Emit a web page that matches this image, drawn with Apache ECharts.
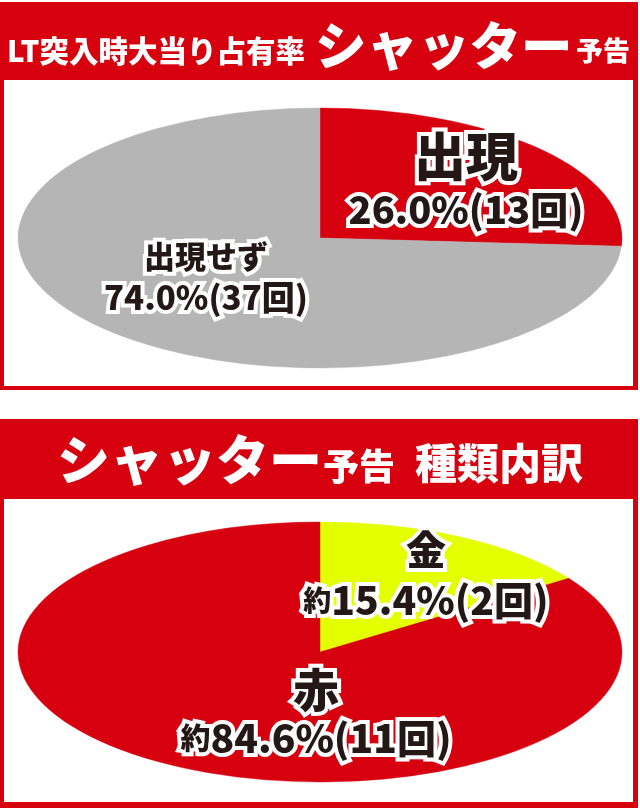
<!DOCTYPE html>
<html>
<head>
<meta charset="utf-8">
<script src="https://cdn.jsdelivr.net/npm/echarts@6/dist/echarts.min.js"></script>
<style>
  html, body { margin: 0; padding: 0; background: #fff; }
  #chart { width: 640px; height: 808px; }
</style>
</head>
<body>
<div id="chart"></div>
<script>
var RED = '#d6000f';
var GRAY = '#b5b5b6';
var YELLOW = '#e3ff00';
var INK = '#231815';
var FONT = '"Noto Sans CJK JP", "Noto Sans", sans-serif';

// 上段: LT突入時大当り占有率 シャッター予告
var shutterNames = ['出現', '出現せず'];
var shutterRates = [26.0, 74.0];
var shutterCounts = [13, 37];

// 下段: シャッター予告 種類内訳
var typeNames = ['金', '赤'];
var typeRates = [15.4, 84.6];
var typeCounts = [2, 11];

function ellipsePie(names, rates, counts, opt) {
    var total = rates.reduce(function (a, b) { return a + b; }, 0);
    var starts = [];
    var acc = 0;
    rates.forEach(function (r) { starts.push(acc); acc += r; });

    return {
        type: 'custom',
        coordinateSystem: 'none',
        silent: true,
        data: rates.map(function (r, i) {
            return { name: names[i], value: [r, counts[i]] };
        }),
        renderItem: function (params, api) {
            var i = params.dataIndex;
            var a0 = -Math.PI / 2 + 2 * Math.PI * starts[i] / total;
            var a1 = a0 + 2 * Math.PI * api.value(0) / total;
            var lb = opt.labels[i];
            var valueText = (opt.prefix ? '{p|' + opt.prefix + '}' : '') +
                '{v|' + api.value(0).toFixed(1) + '%(' + api.value(1) + '回)}';
            var txt = function (size, lh) {
                return { fontSize: size, lineHeight: lh, fontWeight: 900, fontFamily: FONT, fill: INK, stroke: '#fff', lineWidth: 8 };
            };
            return {
                type: 'group',
                children: [{
                    type: 'sector',
                    shape: { cx: opt.cx, cy: opt.cy, r: opt.rx, r0: 0, startAngle: a0, endAngle: a1, clockwise: true },
                    originX: opt.cx,
                    originY: opt.cy,
                    scaleY: opt.ry / opt.rx,
                    style: { fill: opt.colors[i], stroke: opt.colors[i], lineWidth: 0.6 }
                }, {
                    type: 'text',
                    x: lb.x,
                    y: lb.y,
                    z2: 10,
                    style: {
                        text: '{n|' + names[i] + '}\n' + valueText,
                        align: 'center',
                        verticalAlign: 'middle',
                        rich: {
                            n: txt(lb.ns, lb.nl),
                            p: txt(lb.ps || 28, lb.vl),
                            v: txt(lb.vs, lb.vl)
                        }
                    }
                }]
            };
        }
    };
}

function headText(x, y, text, size) {
    return {
        type: 'text',
        x: x,
        y: y,
        style: {
            text: text,
            fill: '#fff',
            fontSize: size,
            fontWeight: 900,
            fontFamily: FONT,
            align: 'left',
            verticalAlign: 'middle'
        }
    };
}

var myChart = echarts.init(document.getElementById('chart'));

myChart.setOption({
    animation: false,
    graphic: [
        // 上段の枠
        { type: 'rect', shape: { x: 0, y: 2, width: 638, height: 388 }, style: { fill: RED } },
        { type: 'rect', shape: { x: 4, y: 80, width: 629, height: 306 }, style: { fill: '#fff' } },
        headText(7, 51, 'LT突入時大当り占有率', 29.5),
        headText(315, 45, 'シャッター', 51.5),
        headText(576, 51, '予告', 27),
        // 下段の枠
        { type: 'rect', shape: { x: 0, y: 419, width: 638, height: 389 }, style: { fill: RED } },
        { type: 'rect', shape: { x: 4, y: 499, width: 629, height: 303 }, style: { fill: '#fff' } },
        headText(57, 460, 'シャッター', 53),
        headText(323, 466, '予告', 36),
        headText(415, 463, '種類内訳', 42)
    ],
    series: [
        ellipsePie(shutterNames, shutterRates, shutterCounts, {
            cx: 320, cy: 238, rx: 302, ry: 130,
            colors: [RED, GRAY],
            prefix: '',
            labels: [
                { x: 466, y: 181, ns: 52, nl: 58, vs: 38, vl: 50 },
                { x: 206, y: 277, ns: 31, nl: 40, vs: 33, vl: 42 }
            ]
        }),
        ellipsePie(typeNames, typeRates, typeCounts, {
            cx: 320, cy: 652, rx: 302, ry: 130,
            colors: [YELLOW, RED],
            prefix: '約',
            labels: [
                { x: 426, y: 576, ns: 40, nl: 48, vs: 39, vl: 52, ps: 28 },
                { x: 316, y: 714, ns: 46, nl: 48, vs: 39, vl: 48, ps: 30 }
            ]
        })
    ]
});
</script>
</body>
</html>
